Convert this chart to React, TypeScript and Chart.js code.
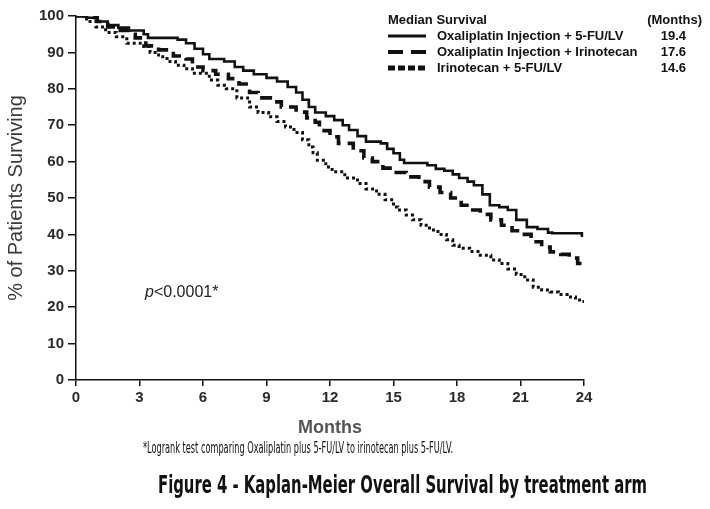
import React, { useEffect, useRef } from "react";
import { Chart, registerables } from "chart.js";

Chart.register(...registerables);

// ---- Data ----
const monthTicks = [0, 3, 6, 9, 12, 15, 18, 21, 24];
const percentTicks = [0, 10, 20, 30, 40, 50, 60, 70, 80, 90, 100];

const seriesNames = [
  "Oxaliplatin Injection + 5-FU/LV",
  "Oxaliplatin Injection + Irinotecan",
  "Irinotecan + 5-FU/LV",
];
const medianSurvival = ["19.4", "17.6", "14.6"];

const oxFuMonths = [0, 0.5, 1.0, 1.5, 2.0, 2.5, 3.2, 3.4, 4.8, 5.2, 5.6, 6.0, 6.3, 7.0, 7.5, 7.9, 8.4, 9.0, 9.5, 10.0, 10.4, 10.7, 11.0, 11.3, 11.8, 12.2, 12.6, 12.9, 13.3, 13.7, 14.4, 14.7, 15.0, 15.3, 15.5, 16.6, 17.0, 17.4, 17.8, 18.1, 18.5, 18.8, 19.2, 19.55, 20.0, 20.4, 20.8, 21.3, 21.8, 22.3, 22.5, 23.8, 23.9];
const oxFuSurvival = [100, 99.5, 98.5, 97.5, 96.8, 96, 95, 94, 93.5, 92.5, 91, 89.5, 88.2, 87.5, 86, 85, 84, 83, 82, 80.5, 79, 77, 75, 73.5, 72.5, 71.4, 70, 68.7, 67, 65.5, 65, 63.5, 62.3, 60.5, 59.6, 59, 58, 57.5, 56.5, 55.5, 54.5, 53.5, 51, 48, 47.5, 46.7, 44, 42, 41.5, 40.5, 40.3, 40.3, 39.3];

const oxIriMonths = [0, 0.5, 1.0, 1.5, 2.0, 2.5, 2.8, 3.3, 3.9, 4.6, 5.2, 5.5, 6.0, 6.6, 7.2, 7.7, 8.2, 8.6, 9.3, 9.7, 10.4, 10.9, 11.3, 11.5, 12.0, 12.4, 13.1, 13.6, 14.0, 14.5, 15.0, 15.6, 16.2, 16.7, 17.2, 17.7, 18.2, 18.6, 19.1, 19.6, 20.1, 20.6, 21.0, 21.5, 22.0, 22.4, 22.9, 23.3, 23.7, 24];
const oxIriSurvival = [100, 99.5, 98.5, 97, 96, 95, 94, 91.8, 90.7, 89, 88.2, 86, 85, 84, 82.8, 81.3, 79, 77.5, 76.4, 75, 73.6, 72, 70.8, 68.5, 66.8, 65, 63, 61, 60, 58.2, 57, 55.8, 54.5, 53, 51.5, 50, 48, 46.7, 45.5, 44, 42.5, 41, 40, 38, 36.5, 35.2, 34.5, 33.5, 32, 31.8];

const iriFuMonths = [0, 0.5, 0.94, 1.4, 1.9, 2.4, 3.2, 3.5, 3.9, 4.3, 4.7, 5.1, 5.5, 6.3, 6.7, 7.1, 7.6, 8.2, 8.6, 9.1, 9.5, 9.9, 10.3, 10.7, 11.0, 11.2, 11.4, 11.8, 12.1, 12.7, 13.3, 13.7, 14.2, 14.6, 15.0, 15.2, 15.6, 15.9, 16.3, 16.7, 17.1, 17.5, 17.8, 18.1, 18.6, 19.1, 19.6, 20.0, 20.4, 20.8, 21.2, 21.6, 22.0, 22.4, 22.8, 23.2, 23.6, 24];
const iriFuSurvival = [100, 98.5, 97, 95.5, 94.3, 92.5, 91.6, 90, 88.8, 87.5, 86.5, 85.5, 84.3, 82.4, 81, 80, 77.5, 75, 73.5, 72.3, 71, 69.5, 68, 66, 64, 62.4, 60.4, 58.5, 57.2, 55.5, 54, 52.5, 51, 49.5, 47.5, 46.7, 45.3, 44, 42.5, 41.2, 40, 38.5, 37, 36.2, 35.3, 34.3, 33, 32, 30.5, 29, 27.5, 25.5, 24.7, 24.2, 23.5, 22.8, 22, 21];

const INK = "#111111";
const SANS = '"Liberation Sans", Arial, sans-serif';
const NARROW = '"Liberation Sans Narrow", "DejaVu Sans Condensed", "Liberation Sans", sans-serif';

function toPoints(xs: number[], ys: number[]) {
  return xs.map((x, i) => ({ x, y: ys[i] }));
}

function fitText(ctx: CanvasRenderingContext2D, text: string, x: number, y: number, width: number) {
  const w = ctx.measureText(text).width;
  ctx.save();
  ctx.translate(x, y);
  ctx.scale(width / w, 1);
  ctx.fillText(text, 0, 0);
  ctx.restore();
}

const lineStyles = [
  { dash: [] as number[], width: 2.6, legendDash: [] as number[], legendWidth: 3 },
  { dash: [12, 7], width: 3.6, legendDash: [15, 8], legendWidth: 4 },
  { dash: [3, 3], width: 3, legendDash: [7, 3], legendWidth: 5 },
];

const annotationPlugin = {
  id: "annotations",
  afterDraw(chart: any) {
    const ctx: CanvasRenderingContext2D = chart.ctx;
    ctx.save();
    ctx.fillStyle = INK;
    ctx.textBaseline = "middle";

    // Legend header
    ctx.font = `bold 13px ${SANS}`;
    ctx.textAlign = "left";
    ctx.fillText("Median Survival", 388, 20);
    ctx.textAlign = "right";
    ctx.fillText("(Months)", 702, 20);

    const rowsY = [36, 52, 68];
    rowsY.forEach((y, i) => {
      const st = lineStyles[i];
      ctx.save();
      ctx.strokeStyle = INK;
      ctx.lineWidth = st.legendWidth;
      ctx.lineCap = "butt";
      ctx.setLineDash(st.legendDash);
      ctx.beginPath();
      ctx.moveTo(388, y);
      ctx.lineTo(426, y);
      ctx.stroke();
      ctx.restore();
      ctx.textAlign = "left";
      ctx.fillText(seriesNames[i], 437, y);
      ctx.textAlign = "right";
      ctx.fillText(medianSurvival[i], 686, y);
    });

    // p-value
    ctx.textAlign = "left";
    ctx.fillStyle = "#222";
    ctx.font = `italic 16px ${SANS}`;
    ctx.fillText("p", 145, 293);
    const pw = ctx.measureText("p").width;
    ctx.font = `16px ${SANS}`;
    ctx.fillText("<0.0001*", 145 + pw, 293);

    // Footnote
    ctx.fillStyle = INK;
    ctx.font = `15px ${NARROW}`;
    fitText(ctx, "*Logrank test comparing Oxaliplatin plus 5-FU/LV to irinotecan plus 5-FU/LV.", 143, 449, 310);

    // Figure title
    ctx.font = `bold 24px ${NARROW}`;
    fitText(ctx, "Figure 4 - Kaplan-Meier Overall Survival by treatment arm", 158, 487, 489);

    ctx.restore();
  },
};

export default function App() {
  const canvasRef = useRef<HTMLCanvasElement | null>(null);

  useEffect(() => {
    if (!canvasRef.current) return;
    const datasets = [
      [oxFuMonths, oxFuSurvival],
      [oxIriMonths, oxIriSurvival],
      [iriFuMonths, iriFuSurvival],
    ].map(([xs, ys], i) => ({
      label: seriesNames[i],
      data: toPoints(xs, ys),
      borderColor: INK,
      backgroundColor: INK,
      borderWidth: lineStyles[i].width,
      borderDash: lineStyles[i].dash,
      borderCapStyle: "butt" as const,
      borderJoinStyle: "miter" as const,
      stepped: true,
      pointRadius: 0,
      fill: false,
      tension: 0,
    }));

    const chart = new Chart(canvasRef.current, {
      type: "line",
      data: { datasets },
      options: {
        animation: false,
        responsive: true,
        maintainAspectRatio: false,
        devicePixelRatio: window.devicePixelRatio || 1,
        layout: { padding: { left: 0, right: 126, top: 16, bottom: 70 } },
        plugins: {
          legend: { display: false },
          tooltip: { enabled: false },
          title: { display: false },
        },
        scales: {
          x: {
            type: "linear",
            min: 0,
            max: 24,
            afterBuildTicks: (scale: any) => {
              scale.ticks = monthTicks.map((v) => ({ value: v }));
            },
            afterFit: (scale: any) => {
              scale.height = 59;
            },
            ticks: {
              font: { family: SANS, size: 15, weight: "bold" },
              color: "#2a2a2a",
              padding: 3,
              maxRotation: 0,
              autoSkip: false,
            },
            grid: {
              drawOnChartArea: false,
              drawTicks: true,
              tickLength: 6,
              color: INK,
              lineWidth: 1.5,
            },
            border: { display: true, color: INK, width: 1.5 },
            title: {
              display: true,
              text: "Months",
              font: { family: SANS, size: 18, weight: "bold" },
              color: "#555",
              padding: { top: 0, bottom: 0 },
            },
          },
          y: {
            type: "linear",
            min: 0,
            max: 100,
            afterBuildTicks: (scale: any) => {
              scale.ticks = percentTicks.map((v) => ({ value: v }));
            },
            afterFit: (scale: any) => {
              scale.width = 76;
            },
            ticks: {
              font: { family: SANS, size: 15, weight: "bold" },
              color: "#2a2a2a",
              padding: 4,
              autoSkip: false,
            },
            grid: {
              drawOnChartArea: false,
              drawTicks: true,
              tickLength: 8,
              color: INK,
              lineWidth: 1.5,
            },
            border: { display: true, color: INK, width: 1.5 },
            title: {
              display: true,
              text: "% of Patients Surviving",
              font: { family: SANS, size: 20, weight: "normal" },
              color: "#3a3a3a",
              padding: { top: 4, bottom: 0 },
            },
          },
        },
      },
      plugins: [annotationPlugin],
    });
    return () => chart.destroy();
  }, []);

  return (
    <div style={{ position: "fixed", left: 0, top: 0, width: 710, height: 509, background: "#fff" }}>
      <canvas ref={canvasRef} />
    </div>
  );
}
